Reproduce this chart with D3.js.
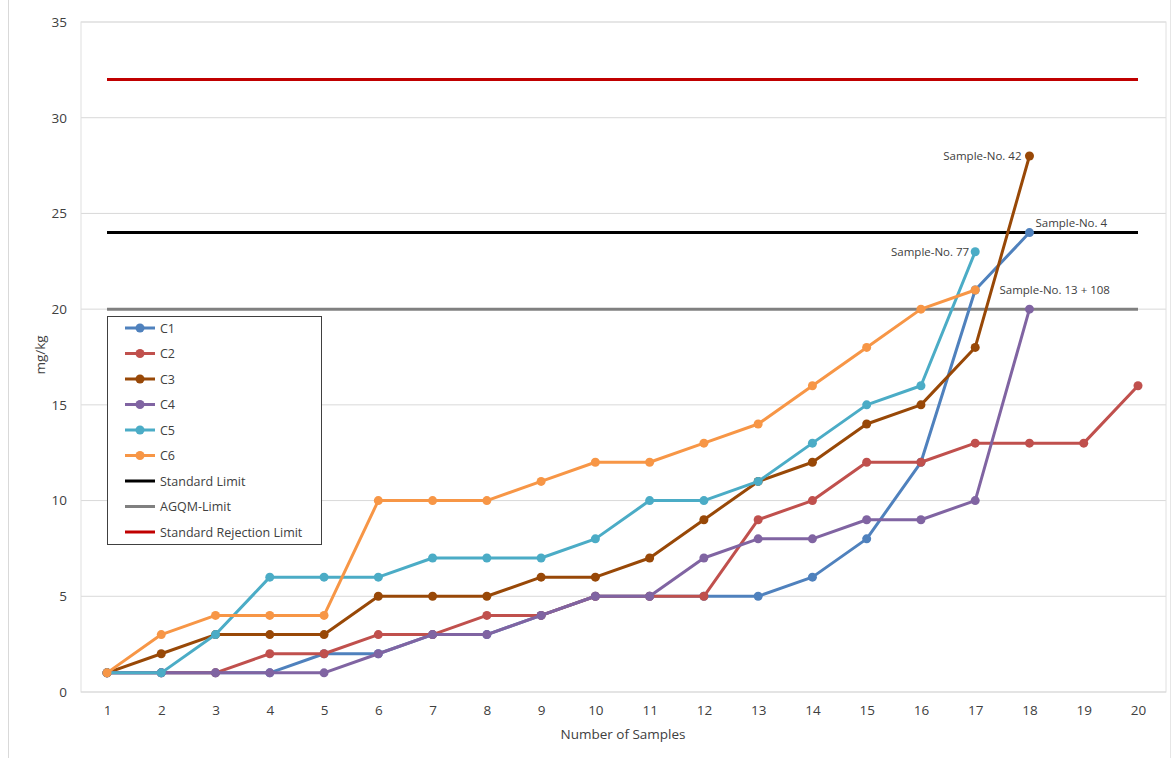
<html>
<head>
<script src="https://d3js.org/d3.v7.min.js"></script>
<style>
  body { margin: 0; background: #fff; }
  svg text { font-family: "Open Sans", "Liberation Sans", sans-serif; fill: #404040; }
</style>
</head>
<body>
<svg width="1172" height="758"></svg>
<script>
// chart values
var samples = d3.range(1, 21);
var seriesNames = ["C1", "C2", "C3", "C4", "C5", "C6"];
var c1 = [1, 1, 1, 1, 2, 2, 3, 3, 4, 5, 5, 5, 5, 6, 8, 12, 21, 24];
var c2 = [1, 1, 1, 2, 2, 3, 3, 4, 4, 5, 5, 5, 9, 10, 12, 12, 13, 13, 13, 16];
var c3 = [1, 2, 3, 3, 3, 5, 5, 5, 6, 6, 7, 9, 11, 12, 14, 15, 18, 28];
var c4 = [1, 1, 1, 1, 1, 2, 3, 3, 4, 5, 5, 7, 8, 8, 9, 9, 10, 20];
var c5 = [1, 1, 3, 6, 6, 6, 7, 7, 7, 8, 10, 10, 11, 13, 15, 16, 23];
var c6 = [1, 3, 4, 4, 4, 10, 10, 10, 11, 12, 12, 13, 14, 16, 18, 20, 21];
var limitNames = ["Standard Limit", "AGQM-Limit", "Standard Rejection Limit"];
var limitValues = [24, 20, 32];
var yTicks = [0, 5, 10, 15, 20, 25, 30, 35];
var notes = [
  { label: "Sample-No. 42", series: 2, at: 18 },
  { label: "Sample-No. 4", series: 0, at: 18 },
  { label: "Sample-No. 77", series: 4, at: 17 },
  { label: "Sample-No. 13 + 108", series: 3, at: 18 }
];

var seriesColors = ["#4F81BD", "#C0504D", "#984807", "#8064A2", "#4BACC6", "#F79646"];
var limitColors = ["#000000", "#808080", "#C00000"];
var allSeries = [c1, c2, c3, c4, c5, c6];

var svg = d3.select("svg");
var plotLeft = 81, plotRight = 1166, plotTop = 22, plotBottom = 692;

// outer chart border (left and right edges only show)
svg.append("line").attr("x1", 8.5).attr("x2", 8.5).attr("y1", 0).attr("y2", 758).attr("stroke", "#d9d9d9");
svg.append("line").attr("x1", 1170.5).attr("x2", 1170.5).attr("y1", 0).attr("y2", 758).attr("stroke", "#e6e6e6");

var x = d3.scalePoint().domain(samples).range([107, 1138]);
var y = d3.scaleLinear().domain([0, 35]).range([plotBottom, plotTop]);

// gridlines
svg.append("g").selectAll("line").data(yTicks.slice(1)).enter().append("line")
  .attr("x1", plotLeft).attr("x2", plotRight)
  .attr("y1", function (d) { return y(d); }).attr("y2", function (d) { return y(d); })
  .attr("stroke", "#d9d9d9");

// plot area border
svg.append("rect").attr("x", plotLeft).attr("y", plotTop).attr("width", plotRight - plotLeft).attr("height", plotBottom - plotTop)
  .attr("fill", "none").attr("stroke", "#e0e0e0");

// y axis
var yAxis = svg.append("g").attr("transform", "translate(" + plotLeft + ",0)")
  .call(d3.axisLeft(y).tickValues(yTicks).tickSize(0).tickPadding(14));
yAxis.select(".domain").remove();
yAxis.selectAll("text").attr("font-size", 13.5).style("font-family", "Open Sans, sans-serif").attr("fill", "#595959");

// x axis
var xAxis = svg.append("g").attr("transform", "translate(0," + plotBottom + ")")
  .call(d3.axisBottom(x).tickSize(0).tickPadding(13));
xAxis.select(".domain").remove();
xAxis.selectAll("text").attr("font-size", 13.5).style("font-family", "Open Sans, sans-serif").attr("fill", "#595959");
svg.append("line").attr("x1", plotLeft).attr("x2", plotRight).attr("y1", plotBottom).attr("y2", plotBottom)
  .attr("stroke", "#d9d9d9");

svg.append("text").attr("x", 623).attr("y", 739).attr("text-anchor", "middle")
  .attr("font-size", 13.5).text("Number of Samples");
svg.append("text").attr("transform", "translate(45,355) rotate(-90)").attr("text-anchor", "middle")
  .attr("font-size", 13.5).text("mg/kg");

// limit lines
limitValues.forEach(function (v, i) {
  svg.append("line").attr("x1", x(1)).attr("x2", x(20))
    .attr("y1", y(v)).attr("y2", y(v))
    .attr("stroke", limitColors[i]).attr("stroke-width", 3);
});

// series
var line = d3.line()
  .x(function (d, i) { return x(i + 1); })
  .y(function (d) { return y(d); });

allSeries.forEach(function (s, k) {
  var g = svg.append("g");
  g.append("path").datum(s).attr("d", line)
    .attr("fill", "none").attr("stroke", seriesColors[k]).attr("stroke-width", 3)
    .attr("stroke-linejoin", "round");
  g.selectAll("circle").data(s).enter().append("circle")
    .attr("cx", function (d, i) { return x(i + 1); })
    .attr("cy", function (d) { return y(d); })
    .attr("r", 4.5).attr("fill", seriesColors[k]);
});

// annotations
var noteOffsets = [[-8, 4, "end"], [6, -6, "start"], [-6, 4, "end"], [-30, -15, "start"]];
notes.forEach(function (n, i) {
  var v = allSeries[n.series][n.at - 1];
  svg.append("text")
    .attr("x", x(n.at) + noteOffsets[i][0]).attr("y", y(v) + noteOffsets[i][1])
    .attr("text-anchor", noteOffsets[i][2]).attr("font-size", 11.5).attr("fill", "#262626")
    .text(n.label);
});

// legend
var lg = svg.append("g");
lg.append("rect").attr("x", 107.5).attr("y", 316.5).attr("width", 214).attr("height", 228)
  .attr("fill", "#fff").attr("stroke", "#404040");
var legendItems = seriesNames.map(function (n, i) { return { name: n, color: seriesColors[i], dot: true }; })
  .concat(limitNames.map(function (n, i) { return { name: n, color: limitColors[i], dot: false }; }));
legendItems.forEach(function (d, i) {
  var ly = 328 + i * 25.5;
  lg.append("line").attr("x1", 125).attr("x2", 155).attr("y1", ly).attr("y2", ly)
    .attr("stroke", d.color).attr("stroke-width", 3);
  if (d.dot) lg.append("circle").attr("cx", 140).attr("cy", ly).attr("r", 4.5).attr("fill", d.color);
  lg.append("text").attr("x", 160).attr("y", ly + 4.5).attr("font-size", 12.5).attr("fill", "#404040").text(d.name);
});
</script>
</body>
</html>
